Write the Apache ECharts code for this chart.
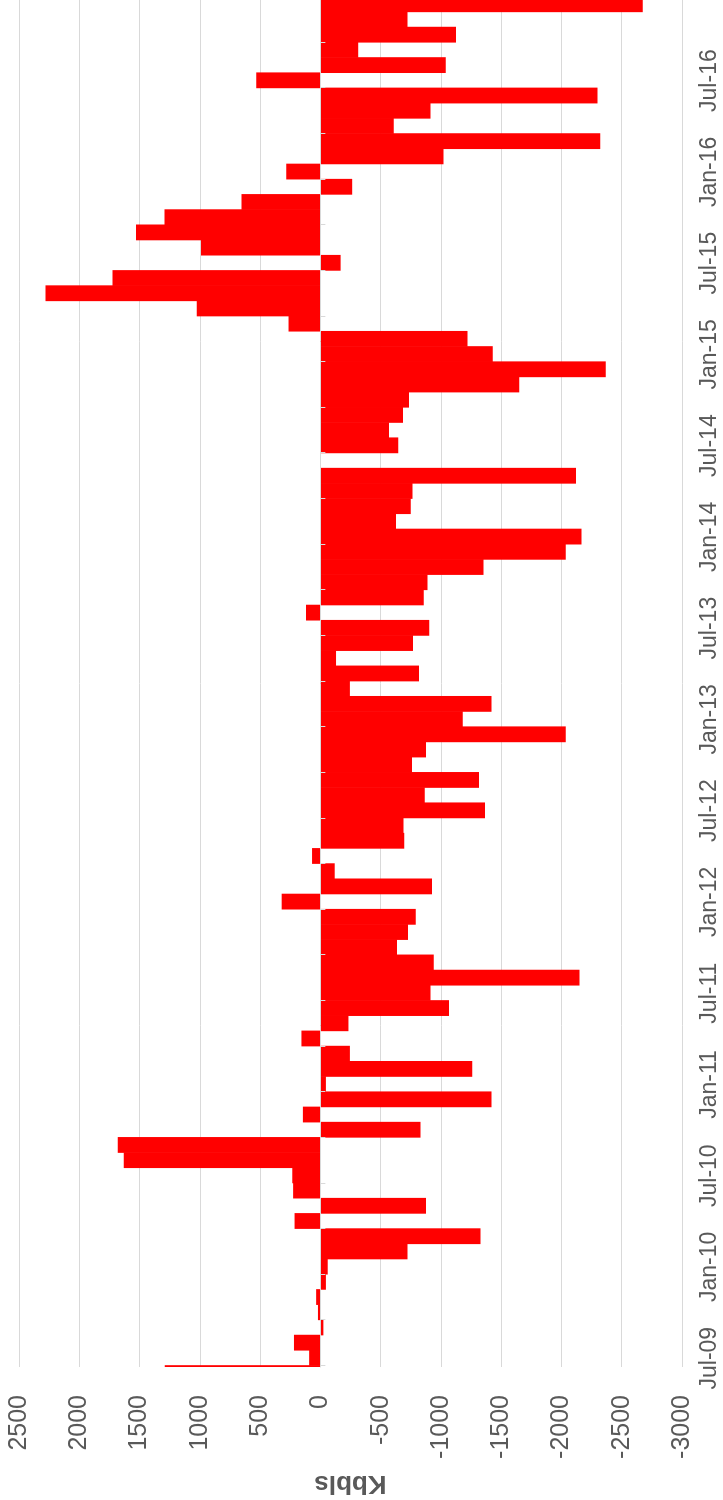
<!DOCTYPE html>
<html>
<head>
<meta charset="utf-8">
<script src="https://cdn.jsdelivr.net/npm/echarts@6/dist/echarts.min.js"></script>
<style>
  html, body { margin: 0; padding: 0; width: 723px; height: 1500px; overflow: hidden; background: #fff; }
  /* chart is drawn landscape, then turned a quarter left like the picture */
  #chart {
    position: absolute; left: 0; top: 0;
    width: 1500px; height: 723px;
    transform-origin: 0 0;
    transform: translateY(1500px) rotate(-90deg);
  }
</style>
</head>
<body>
<div id="chart"></div>
<script>
// monthly values, Jun-09 .. Dec-16 (Kbbls)
const months = [
  "Jun-09","Jul-09","Aug-09","Sep-09","Oct-09","Nov-09","Dec-09",
  "Jan-10","Feb-10","Mar-10","Apr-10","May-10","Jun-10","Jul-10","Aug-10","Sep-10","Oct-10","Nov-10","Dec-10",
  "Jan-11","Feb-11","Mar-11","Apr-11","May-11","Jun-11","Jul-11","Aug-11","Sep-11","Oct-11","Nov-11","Dec-11",
  "Jan-12","Feb-12","Mar-12","Apr-12","May-12","Jun-12","Jul-12","Aug-12","Sep-12","Oct-12","Nov-12","Dec-12",
  "Jan-13","Feb-13","Mar-13","Apr-13","May-13","Jun-13","Jul-13","Aug-13","Sep-13","Oct-13","Nov-13","Dec-13",
  "Jan-14","Feb-14","Mar-14","Apr-14","May-14","Jun-14","Jul-14","Aug-14","Sep-14","Oct-14","Nov-14","Dec-14",
  "Jan-15","Feb-15","Mar-15","Apr-15","May-15","Jun-15","Jul-15","Aug-15","Sep-15","Oct-15","Nov-15","Dec-15",
  "Jan-16","Feb-16","Mar-16","Apr-16","May-16","Jun-16","Jul-16","Aug-16","Sep-16","Oct-16","Nov-16","Dec-16"
];
const values = [
  1290, 93, 219, -25, 20, 35, -46,
  -61, -723, -1328, 214, -876, 226, 233, 1630, 1680, -830, 145, -1419,
  -46, -1259, -245, 157, -233, -1067, -914, -2150, -941, -635, -727, -792,
  321, -926, -119, 69, -695, -690, -1366, -865, -1316, -761, -876, -2035,
  -1182, -1419, -245, -819, -130, -769, -903, 119, -857, -888, -1354, -2035,
  -2166, -627, -750, -765, -2120, 0, -647, -570, -685, -735, -1649, -2368,
  -1431, -1220, 264, 1025, 2280, 1725, -168, 991, 1530, 1293, 654, -264,
  283, -1021, -2322, -608, -914, -2299, 532, -1041, -314, -1125, -723, -2674
];
const tickLabels = ["Jul-09","Jan-10","Jul-10","Jan-11","Jul-11","Jan-12","Jul-12",
  "Jan-13","Jul-13","Jan-14","Jul-14","Jan-15","Jul-15","Jan-16","Jul-16"];
const valueTicks = [-3000, -2500, -2000, -1500, -1000, -500, 0, 500, 1000, 1500, 2000, 2500];

// month index: Jul-09 = 0
const seriesData = values.map((v, i) => [i - 1, v, months[i]]);
const labelPos = tickLabels.map((t, i) => i * 6);
// small ticks on the zero line, every third month boundary
const zeroTicks = [];
for (let m = -0.5; m < 90; m += 3) zeroTicks.push(m);

const myChart = echarts.init(document.getElementById("chart"));
const grey = "#595959";
const font = "Liberation Sans";
const xMin = -0.58, xMax = 89.3;

// one month wide column, from 0 to the value
function renderBar(params, api) {
  const i = api.value(0);
  const v = api.value(1);
  const a = api.coord([i - 0.5, v]);
  const b = api.coord([i + 0.5, 0]);
  return {
    type: "rect",
    shape: {
      x: a[0],
      y: Math.min(a[1], b[1]),
      width: b[0] - a[0] + 0.6,
      height: Math.abs(b[1] - a[1])
    },
    style: { fill: "#ff0000" }
  };
}

const option = {
  animation: false,
  grid: { left: 133, right: 0, top: 19, bottom: 41, outerBoundsMode: "none" },
  xAxis: [
    {
      type: "value",
      min: xMin,
      max: xMax,
      axisLine: { show: false },
      axisTick: { show: false },
      splitLine: { show: false },
      axisLabel: {
        customValues: labelPos,
        formatter: (v) => tickLabels[Math.round(v / 6)],
        color: grey,
        fontSize: 23,
        fontFamily: font,
        margin: 16
      }
    },
    {
      // the horizontal axis line sitting on 0
      type: "value",
      position: "bottom",
      min: xMin,
      max: xMax,
      z: 10,
      axisLine: { show: true, onZero: true, onZeroAxisIndex: 0, lineStyle: { color: "#d9d9d9", width: 1 } },
      axisTick: { show: true, customValues: zeroTicks, length: 5, lineStyle: { color: "#d9d9d9", width: 1 } },
      axisLabel: { show: false },
      splitLine: { show: false }
    }
  ],
  yAxis: {
    type: "value",
    min: valueTicks[0],
    max: valueTicks[valueTicks.length - 1],
    interval: 500,
    name: "Kbbls",
    nameLocation: "middle",
    nameRotate: 90,
    nameGap: 95,
    nameTextStyle: { color: grey, fontSize: 26, fontWeight: "bold", fontFamily: font },
    axisLine: { show: false },
    axisTick: { show: false },
    splitLine: { lineStyle: { color: "#d9d9d9", width: 1 } },
    axisLabel: {
      color: grey, fontSize: 25, fontFamily: font, margin: 28,
      formatter: (v) => String(v)
    }
  },
  series: [
    {
      type: "custom",
      renderItem: renderBar,
      data: seriesData,
      encode: { x: 0, y: 1 },
      xAxisIndex: 0,
      clip: true
    }
  ]
};
myChart.setOption(option);
</script>
</body>
</html>
